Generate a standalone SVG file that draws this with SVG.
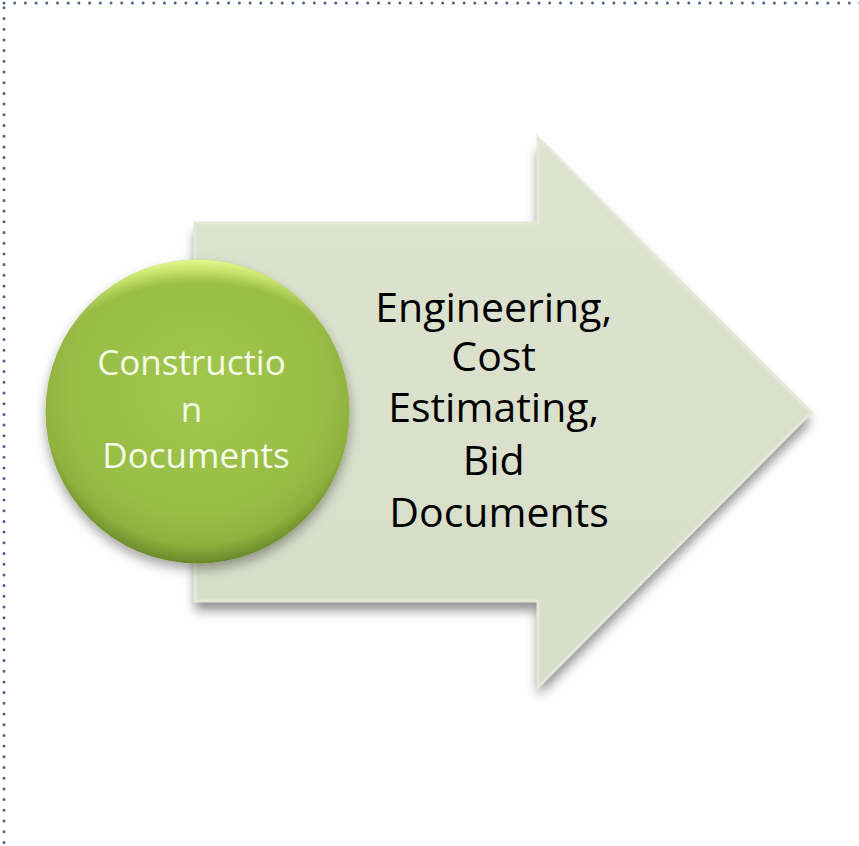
<svg xmlns="http://www.w3.org/2000/svg" width="859" height="846" viewBox="0 0 859 846">
  <defs>
    <style>
      .frame { fill: none; stroke: #4f6088; stroke-width: 3; stroke-dasharray: 0 10.7; stroke-linecap: round; }
      .arrowTxt { font-family: "Open Sans", "Liberation Sans", sans-serif; font-size: 41px; fill: #000000; text-anchor: middle; }
      .circTxt { font-family: "Open Sans", "Liberation Sans", sans-serif; font-size: 35px; fill: #f4fbe6; text-anchor: middle; }
    </style>
    <filter id="arrowShadow" x="-20%" y="-20%" width="140%" height="150%">
      <feDropShadow dx="0" dy="9" stdDeviation="6" flood-color="#000" flood-opacity="0.45"/>
    </filter>
    <filter id="circShadow" x="-20%" y="-20%" width="140%" height="140%">
      <feDropShadow dx="0" dy="6" stdDeviation="6" flood-color="#000" flood-opacity="0.35"/>
    </filter>
    <linearGradient id="arrowFill" x1="0" y1="0" x2="0" y2="1">
      <stop offset="0" stop-color="#dde3cf"/>
      <stop offset="1" stop-color="#d7ddc8"/>
    </linearGradient>
    <radialGradient id="circFill" cx="0.5" cy="0.42" r="0.6">
      <stop offset="0" stop-color="#a2c74e"/>
      <stop offset="0.7" stop-color="#98bd46"/>
      <stop offset="0.86" stop-color="#8fb23f"/>
      <stop offset="0.95" stop-color="#6f8f2c"/>
      <stop offset="1" stop-color="#55711f"/>
    </radialGradient>
    <radialGradient id="circHi" cx="0.5" cy="0.62" r="0.62">
      <stop offset="0.78" stop-color="#d8f27a" stop-opacity="0"/>
      <stop offset="0.9" stop-color="#dcf47e" stop-opacity="0.7"/>
      <stop offset="1" stop-color="#f0ff9a" stop-opacity="0.95"/>
    </radialGradient>
    <clipPath id="circClip">
      <circle cx="197.5" cy="411.5" r="152"/>
    </clipPath>
  </defs>

  <rect class="frame" x="4" y="3" width="900" height="900"/>

  <g id="arrow">
    <path d="M195,223 L538,223 L538,138 L811,412.5 L538,687 L538,601 L195,601 Z" fill="url(#arrowFill)" filter="url(#arrowShadow)"/>
    <path d="M195,223 L538,223 L538,138 L811,412.5 L538,687 L538,601 L195,601 Z" fill="none" stroke="#e3e9d6" stroke-width="3"/>
    <text class="arrowTxt">
      <tspan x="499" y="322">Engineering,</tspan>
      <tspan x="499" y="371">Cost</tspan>
      <tspan x="499" y="422">Estimating,</tspan>
      <tspan x="499" y="475">Bid</tspan>
      <tspan x="499" y="527">Documents</tspan>
    </text>
  </g>

  <g id="circle">
    <circle cx="197.5" cy="411.5" r="152" fill="url(#circFill)" filter="url(#circShadow)"/>
    <ellipse cx="197.5" cy="350" rx="150" ry="92" fill="url(#circHi)" clip-path="url(#circClip)"/>
    <text class="circTxt">
      <tspan x="196" y="375">Constructio</tspan>
      <tspan x="196" y="422">n</tspan>
      <tspan x="196" y="468">Documents</tspan>
    </text>
  </g>

  <g id="connectors"/>
</svg>
